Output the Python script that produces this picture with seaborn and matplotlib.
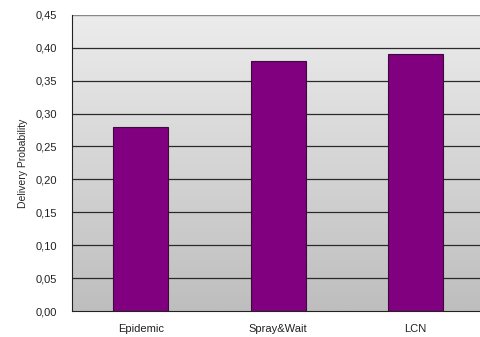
import numpy as np
import pandas as pd
import matplotlib
matplotlib.use("Agg")
import matplotlib.pyplot as plt
from matplotlib.ticker import FuncFormatter, MultipleLocator
import seaborn as sns

protocols = ["Epidemic", "Spray&Wait", "LCN"]
delivery = [0.28, 0.38, 0.39]

sns.set_style("white")
plt.rcParams["font.family"] = ["Liberation Sans", "DejaVu Sans"]

df = pd.DataFrame({"protocol": protocols, "delivery": delivery})

fig = plt.figure(figsize=(4.8, 3.37), dpi=100)
ax = fig.add_axes([0.15, 0.077, 0.859, 0.879])

# vertical grey gradient behind the bars
grad = np.linspace(0, 1, 256).reshape(-1, 1)
ax.imshow(grad, extent=[-0.5, 2.5, 0.0, 0.45], aspect="auto",
          cmap=matplotlib.colors.LinearSegmentedColormap.from_list(
              "bg", ["#ececec", "#bebebe"]), origin="upper", zorder=0)

for y in np.arange(0.05, 0.45, 0.05):
    ax.axhline(y, color="#2a2a2a", lw=0.9, zorder=1)
ax.axhline(0.45, color="#888888", lw=1.0, zorder=1)

sns.barplot(data=df, x="protocol", y="delivery", color="#800080",
            edgecolor="#3c0a3c", linewidth=0.8, width=0.4, ax=ax, zorder=2,
            saturation=1)

ax.set_xlim(-0.5, 2.5)
ax.set_ylim(0, 0.45)
ax.yaxis.set_major_locator(MultipleLocator(0.05))
ax.yaxis.set_major_formatter(FuncFormatter(lambda v, p: f"{v:.2f}".replace(".", ",")))
ax.set_xlabel("")
ax.set_ylabel("Delivery Probability", fontsize=7.5, labelpad=5)
ax.tick_params(axis="both", labelsize=8, colors="#222222")
ax.tick_params(axis="y", length=0, pad=11)
ax.tick_params(axis="x", length=0, pad=9)

# minor ticks between categories on the base line
ax.set_xticks([0.5, 1.5], minor=True)
ax.tick_params(axis="x", which="minor", direction="in", length=3, color="#222222")

for s in ["top", "right"]:
    ax.spines[s].set_visible(False)
ax.spines["left"].set_color("#222222")
ax.spines["bottom"].set_color("#222222")

fig.savefig("out.png", dpi=100)
